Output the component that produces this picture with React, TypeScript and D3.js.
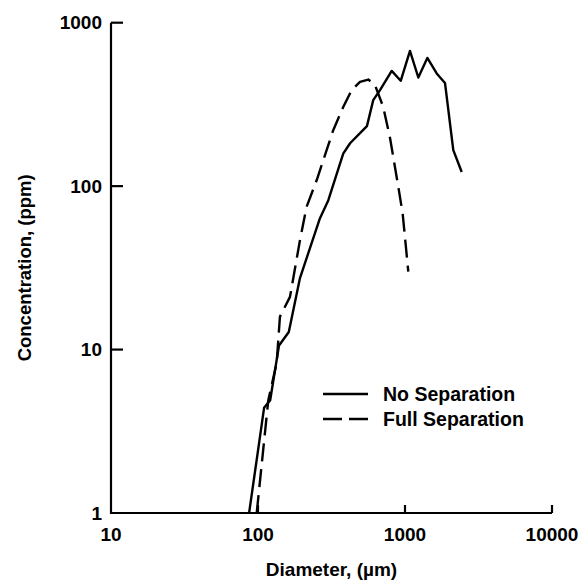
import React from "react";
import * as d3 from "d3";

const xTicks = [10, 100, 1000, 10000];
const yTicks = [1, 10, 100, 1000];
const xTickLabels = ["10", "100", "1000", "10000"];
const yTickLabels = ["1", "10", "100", "1000"];

const noSepX = [87, 110, 121, 139, 162, 193, 264, 301, 380, 423, 510, 551, 608, 676, 812, 935, 1081, 1232, 1419, 1643, 1871, 2131, 2431];
const noSepY = [1, 4.4, 4.9, 10.6, 12.8, 27.4, 63.7, 82, 158, 183, 217, 233, 336, 387, 507, 441, 672, 462, 609, 489, 428, 166, 122];

const fullSepX = [98, 117.5, 134, 141, 165, 193, 214, 251, 293, 325, 380, 434, 494, 563, 625, 711, 791, 899, 964, 1053];
const fullSepY = [1, 4.9, 8.3, 15.9, 21, 46.7, 74.7, 109, 166, 220, 305, 387, 434, 449, 415, 305, 197, 100, 68, 30];

const seriesNames = ["No Separation", "Full Separation"];

const W = 587;
const H = 587;
const FONT = "'Liberation Sans', Arial, sans-serif";

export default function App() {
  const x = d3.scaleLog().domain([10, 10000]).range([111, 552]);
  const y = d3.scaleLog().domain([1, 1000]).range([513, 22.7]);

  const line = d3
    .line<[number, number]>()
    .x((d) => x(d[0]))
    .y((d) => y(d[1]));

  const solid = noSepX.map((v, i) => [v, noSepY[i]] as [number, number]);
  const dashed = fullSepX.map((v, i) => [v, fullSepY[i]] as [number, number]);

  const x0 = x(10);
  const y0 = y(1);

  return (
    <svg
      width={W}
      height={H}
      style={{ position: "absolute", left: 0, top: 0, background: "#fff" }}
      fontFamily={FONT}
    >
      <rect x={0} y={0} width={W} height={H} fill="#fff" />
      <path
        d={`M${x0},${y(1000)}L${x0},${y0}L${x(10000)},${y0}`}
        fill="none"
        stroke="#000"
        strokeWidth={2.2}
      />
      {yTicks.map((t, i) => (
        <g key={"y" + t}>
          {t > 1 && (
            <line x1={x0} x2={x0 + 12} y1={y(t)} y2={y(t)} stroke="#000" strokeWidth={2.2} />
          )}
          <text
            x={x0 - 9}
            y={y(t)}
            textAnchor="end"
            dominantBaseline="central"
            fontSize={19}
            fontWeight="bold"
          >
            {yTickLabels[i]}
          </text>
        </g>
      ))}
      {xTicks.map((t, i) => (
        <g key={"x" + t}>
          {t > 10 && (
            <line x1={x(t)} x2={x(t)} y1={y0} y2={y0 - 8} stroke="#000" strokeWidth={2.2} />
          )}
          <text x={x(t)} y={541} textAnchor="middle" fontSize={19} fontWeight="bold">
            {xTickLabels[i]}
          </text>
        </g>
      ))}
      <text x={(x0 + x(10000)) / 2} y={576} textAnchor="middle" fontSize={19} fontWeight="bold">
        Diameter, (µm)
      </text>
      <text
        transform={`translate(31,${(y(1000) + y0) / 2}) rotate(-90)`}
        textAnchor="middle"
        fontSize={18.5}
        fontWeight="bold"
      >
        Concentration, (ppm)
      </text>

      <path d={line(solid) || ""} fill="none" stroke="#000" strokeWidth={2.4} strokeLinejoin="round" />
      <path
        d={line(dashed) || ""}
        fill="none"
        stroke="#000"
        strokeWidth={2.4}
        strokeDasharray="18 8"
        strokeLinejoin="round"
      />

      <line x1={323} x2={368} y1={394} y2={394} stroke="#000" strokeWidth={2.4} />
      <text x={383} y={401} fontSize={19.5} fontWeight="bold">
        {seriesNames[0]}
      </text>
      <line x1={323} x2={368} y1={419} y2={419} stroke="#000" strokeWidth={2.4} strokeDasharray="19 7" />
      <text x={383} y={426} fontSize={19.5} fontWeight="bold">
        {seriesNames[1]}
      </text>
    </svg>
  );
}
